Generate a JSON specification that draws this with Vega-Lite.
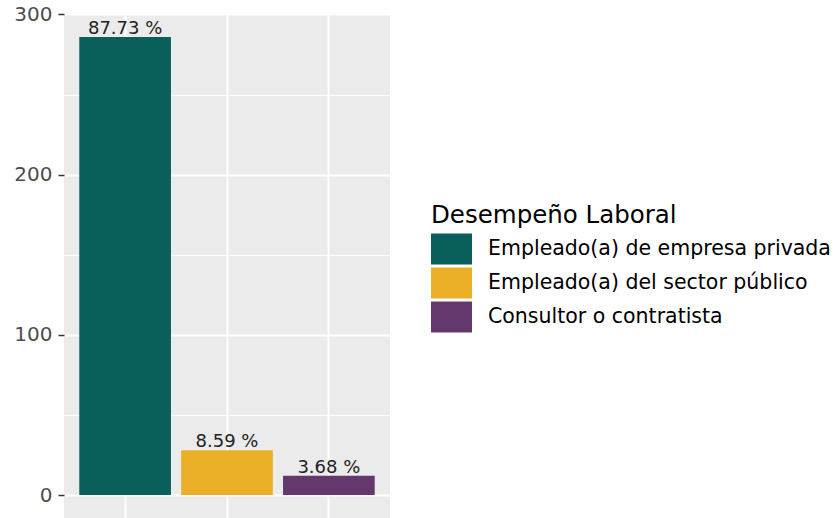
{
  "$schema": "https://vega.github.io/schema/vega-lite/v6.json",
  "width": 326,
  "height": 504,
  "autosize": {"type": "none"},
  "padding": {"left": 64, "top": 14, "right": 443, "bottom": 0},
  "background": "white",
  "config": {
    "view": {"fill": "#EBEBEB", "stroke": null},
    "font": "DejaVu Sans"
  },
  "data": {
    "values": [
      {"categoria": "Empleado(a) de empresa privada", "n": 286, "etiqueta": "87.73 %"},
      {"categoria": "Empleado(a) del sector público", "n": 28, "etiqueta": "8.59 %"},
      {"categoria": "Consultor o contratista", "n": 12, "etiqueta": "3.68 %"}
    ]
  },
  "encoding": {
    "x": {
      "field": "categoria",
      "type": "nominal",
      "sort": ["Empleado(a) de empresa privada", "Empleado(a) del sector público", "Consultor o contratista"],
      "scale": {"paddingInner": 0.1, "paddingOuter": 0.15},
      "axis": {
        "title": null,
        "labels": false,
        "ticks": false,
        "domain": false,
        "grid": true,
        "gridColor": "white",
        "gridWidth": 2,
        "bandPosition": 0.5
      }
    }
  },
  "layer": [
    {
      "mark": {"type": "bar", "strokeWidth": 0},
      "encoding": {
        "y": {
          "field": "n",
          "type": "quantitative",
          "scale": {"domain": [-14.3, 300.3], "nice": false, "zero": false},
          "axis": {
            "title": null,
            "values": [0, 50, 100, 150, 200, 250, 300],
            "labelExpr": "datum.value % 100 === 0 ? datum.label : ''",
            "grid": true,
            "gridColor": "white",
            "gridWidth": {"expr": "datum.value % 100 === 0 ? 2 : 1.1"},
            "tickOpacity": {"expr": "datum.value % 100 === 0 ? 1 : 0"},
            "tickColor": "#333333",
            "tickSize": 6,
            "tickWidth": 1.5,
            "domain": false,
            "labelColor": "#4D4D4D",
            "labelFontSize": 20,
            "labelFont": "DejaVu Sans",
            "labelPadding": 6
          }
        },
        "y2": {"datum": 0},
        "color": {
          "field": "categoria",
          "type": "nominal",
          "scale": {
            "domain": ["Empleado(a) de empresa privada", "Empleado(a) del sector público", "Consultor o contratista"],
            "range": ["#0B5F5B", "#EBB027", "#65386D"]
          },
          "legend": {
            "title": "Desempeño Laboral",
            "orient": "none",
            "legendX": 367,
            "legendY": 190,
            "padding": 0,
            "titleFontSize": 24.5,
            "titleFont": "DejaVu Sans",
            "titleFontWeight": "normal",
            "titleColor": "black",
            "titleLimit": 0,
            "titlePadding": 5,
            "titleBaseline": "top",
            "labelFontSize": 20.5,
            "labelFont": "DejaVu Sans",
            "labelColor": "black",
            "labelLimit": 0,
            "labelOffset": 26,
            "symbolType": "M-1,-1H1.645V1H-1Z",
            "symbolSize": 961,
            "symbolStrokeWidth": 0,
            "symbolOpacity": 1,
            "rowPadding": 3
          }
        }
      }
    },
    {
      "mark": {"type": "text", "baseline": "alphabetic", "dy": -3, "fontSize": 18, "font": "DejaVu Sans", "color": "#222222"},
      "encoding": {
        "y": {"field": "n", "type": "quantitative"},
        "text": {"field": "etiqueta", "type": "nominal"}
      }
    }
  ]
}
